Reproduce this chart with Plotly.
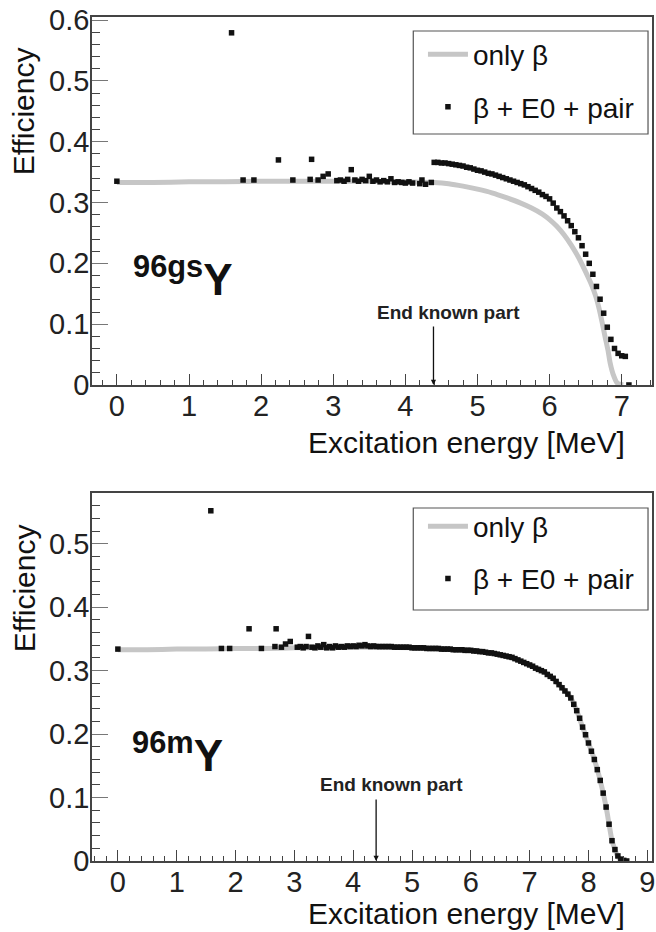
import plotly.graph_objects as go

# ---------------- data: 96gs Y (top panel) ----------------
gs_beta_E = [0.0, 0.5, 1.0, 1.5, 2.0, 2.5, 3.0, 3.5, 4.0, 4.4, 4.6, 4.8, 5.0, 5.2, 5.4, 5.6,
             5.75, 5.9, 6.0, 6.1, 6.2, 6.3, 6.4, 6.5, 6.57, 6.64, 6.69, 6.73, 6.77, 6.81,
             6.84, 6.88, 6.94, 7.02]
gs_beta_eff = [0.333, 0.333, 0.334, 0.334, 0.335, 0.335, 0.335, 0.335, 0.334, 0.333, 0.331, 0.327,
               0.322, 0.316, 0.308, 0.299, 0.291, 0.281, 0.272, 0.261, 0.247, 0.230, 0.210, 0.186,
               0.168, 0.146, 0.124, 0.102, 0.079, 0.057, 0.036, 0.018, 0.003, 0.0]

gs_all_E = [0.0, 1.59, 1.75, 1.90, 2.24, 2.44, 2.68, 2.70, 2.79, 2.86, 2.93,
            3.05, 3.10, 3.15, 3.20, 3.25, 3.30, 3.35, 3.40, 3.45, 3.50, 3.55, 3.60, 3.65,
            3.70, 3.75, 3.80, 3.85, 3.90, 3.95, 4.00, 4.05, 4.10, 4.20, 4.23, 4.28, 4.36,
            4.40, 4.45, 4.50, 4.55, 4.60, 4.65, 4.70, 4.75, 4.80, 4.85, 4.90, 4.95, 5.00,
            5.05, 5.10, 5.15, 5.20, 5.25, 5.30, 5.35, 5.40, 5.45, 5.50, 5.55, 5.60, 5.65,
            5.70, 5.75, 5.80, 5.85, 5.90, 5.95, 6.00, 6.05, 6.10, 6.15, 6.20, 6.25, 6.30,
            6.35, 6.40, 6.45, 6.50, 6.55, 6.60, 6.65, 6.70, 6.75, 6.80, 6.85, 6.90, 6.95,
            7.00, 7.05, 7.10]
gs_all_eff = [0.335, 0.579, 0.337, 0.337, 0.370, 0.337, 0.338, 0.371, 0.337, 0.343, 0.347,
              0.336, 0.337, 0.335, 0.338, 0.354, 0.337, 0.335, 0.338, 0.336, 0.343, 0.335,
              0.337, 0.334, 0.336, 0.334, 0.339, 0.333, 0.334, 0.333, 0.332, 0.334, 0.332,
              0.331, 0.337, 0.330, 0.333,
              0.366, 0.366, 0.365, 0.365, 0.364, 0.363, 0.362, 0.361, 0.360, 0.358, 0.357,
              0.355, 0.353, 0.352, 0.350, 0.348, 0.347, 0.345, 0.343, 0.341, 0.339, 0.337,
              0.335, 0.333, 0.331, 0.329, 0.326, 0.323, 0.320, 0.317, 0.313, 0.310, 0.306,
              0.299, 0.291, 0.285, 0.278, 0.270, 0.262, 0.252, 0.242, 0.229, 0.215, 0.200,
              0.182, 0.162, 0.141, 0.118, 0.095, 0.075, 0.060, 0.052, 0.048, 0.047, 0.0]

# ---------------- data: 96m Y (bottom panel) ----------------
m_beta_E = [0.0, 0.5, 1.0, 1.5, 2.0, 2.5, 3.0, 3.5, 4.0, 4.5, 5.0, 5.5, 6.0, 6.5, 7.0, 7.25,
            7.5, 7.7, 7.8, 7.9, 8.0, 8.1, 8.2, 8.3, 8.35, 8.4, 8.45, 8.5, 8.55]
m_beta_eff = [0.333, 0.333, 0.334, 0.334, 0.335, 0.335, 0.336, 0.336, 0.337, 0.337, 0.336,
              0.334, 0.332, 0.325, 0.309, 0.298, 0.278, 0.257, 0.237, 0.211, 0.186, 0.160,
              0.127, 0.085, 0.058, 0.032, 0.018, 0.007, 0.0]

m_all_E = [0.0, 1.58, 1.76, 1.90, 2.23, 2.44, 2.67, 2.69, 2.78, 2.85, 2.93,
           3.05, 3.10, 3.15, 3.20, 3.24, 3.30, 3.35, 3.40, 3.45, 3.50, 3.55, 3.60, 3.65,
           3.70, 3.75, 3.80, 3.85, 3.90, 3.95, 4.00, 4.05, 4.10, 4.15, 4.20, 4.25, 4.30,
           4.35, 4.40, 4.45, 4.50, 4.55, 4.60, 4.65, 4.70, 4.75, 4.80, 4.85, 4.90, 4.95,
           5.00, 5.05, 5.10, 5.15, 5.20, 5.25, 5.30, 5.35, 5.40, 5.45, 5.50, 5.55, 5.60,
           5.65, 5.70, 5.75, 5.80, 5.85, 5.90, 5.95, 6.00, 6.05, 6.10, 6.15, 6.20, 6.25,
           6.30, 6.35, 6.40, 6.45, 6.50, 6.55, 6.60, 6.65, 6.70, 6.75, 6.80, 6.85, 6.90,
           6.95, 7.00, 7.05, 7.10, 7.15, 7.20, 7.25, 7.30, 7.35, 7.40, 7.45, 7.50, 7.55,
           7.60, 7.65, 7.70, 7.75, 7.80, 7.85, 7.90, 7.95, 8.00, 8.05, 8.10, 8.15, 8.20,
           8.25, 8.30, 8.35, 8.40, 8.45, 8.50, 8.55, 8.60, 8.65]
m_all_eff = [0.334, 0.552, 0.335, 0.335, 0.366, 0.335, 0.338, 0.366, 0.337, 0.342, 0.346,
             0.337, 0.338, 0.336, 0.338, 0.354, 0.337, 0.336, 0.339, 0.337, 0.341, 0.336,
             0.338, 0.336, 0.339, 0.337, 0.338, 0.337, 0.339, 0.338, 0.339, 0.338, 0.340,
             0.339, 0.341, 0.339, 0.338, 0.339, 0.338,
             0.338, 0.338, 0.338, 0.338, 0.338, 0.337, 0.337, 0.337, 0.337, 0.337, 0.337,
             0.336, 0.336, 0.336, 0.336, 0.336, 0.335, 0.335, 0.335, 0.335, 0.335, 0.334,
             0.334, 0.334, 0.334, 0.333, 0.333, 0.333, 0.333, 0.332, 0.332, 0.332, 0.331,
             0.331, 0.330, 0.330, 0.329, 0.328, 0.328, 0.327, 0.326, 0.325, 0.324, 0.323,
             0.322, 0.321, 0.319, 0.317, 0.315, 0.313, 0.311, 0.309, 0.307, 0.304, 0.302,
             0.300, 0.298, 0.294, 0.291, 0.288, 0.283, 0.278, 0.273, 0.268, 0.263, 0.257,
             0.247, 0.237, 0.225, 0.211, 0.199, 0.186, 0.173, 0.160, 0.144, 0.127, 0.107,
             0.085, 0.058, 0.032, 0.018, 0.008, 0.003, 0.001, 0.0]

top_x_ticks = [0, 1, 2, 3, 4, 5, 6, 7]
bot_x_ticks = [0, 1, 2, 3, 4, 5, 6, 7, 8, 9]
top_y_ticks = [0, 0.1, 0.2, 0.3, 0.4, 0.5, 0.6]
bot_y_ticks = [0, 0.1, 0.2, 0.3, 0.4, 0.5]
end_known_E = 4.39

series_names = ["only β", "β + E0 + pair"]
isotope_labels = ["<b><sup>96gs</sup>Y</b>", "<b><sup>96m</sup>Y</b>"]

FONT = "Liberation Sans, Arial, Helvetica, sans-serif"
GRAY = "#c6c6c6"
BLACK = "#111111"
AXC = "#444444"

fig = go.Figure()

# top panel
fig.add_trace(go.Scatter(x=gs_beta_E, y=gs_beta_eff, mode="lines", name=series_names[0],
                         line=dict(color=GRAY, width=5, shape="spline", smoothing=0.6),
                         xaxis="x", yaxis="y", legend="legend", legendgroup="a"))
fig.add_trace(go.Scatter(x=gs_all_E, y=gs_all_eff, mode="markers", name=series_names[1],
                         marker=dict(symbol="square", size=5.5, color=BLACK), xaxis="x", yaxis="y",
                         legend="legend", legendgroup="b"))
# bottom panel
fig.add_trace(go.Scatter(x=m_beta_E, y=m_beta_eff, mode="lines", name=series_names[0],
                         line=dict(color=GRAY, width=5, shape="spline", smoothing=0.6),
                         xaxis="x2", yaxis="y2", legend="legend2", legendgroup="c"))
fig.add_trace(go.Scatter(x=m_all_E, y=m_all_eff, mode="markers", name=series_names[1],
                         marker=dict(symbol="square", size=5.5, color=BLACK), xaxis="x2", yaxis="y2",
                         legend="legend2", legendgroup="d"))

tickfont = dict(family=FONT, size=29, color="#222222")


def xaxis_cfg(rng, ticks, anchor):
    return dict(range=rng, tickvals=ticks, ticks="inside", ticklen=11, tickwidth=1,
                tickcolor=AXC, showline=True, linecolor=AXC, linewidth=1.5, mirror=True,
                showgrid=False, zeroline=False, tickfont=tickfont, anchor=anchor,
                ticklabelstandoff=-6, ticklabeloverflow="allow",
                minor=dict(dtick=0.2, ticks="inside", ticklen=5, tickcolor=AXC, tickwidth=1,
                           showgrid=False))


def yaxis_cfg(rng, ticks, domain, anchor):
    return dict(range=rng, tickvals=ticks, ticks="inside", ticklen=16, tickwidth=1,
                tickcolor="#777777", showline=True, linecolor=AXC, linewidth=1.5, mirror=True,
                showgrid=False, zeroline=False, tickfont=tickfont, domain=domain, anchor=anchor,
                ticklabelstandoff=-5,
                minor=dict(dtick=0.02, ticks="inside", ticklen=8, tickcolor=AXC, tickwidth=1,
                           showgrid=False))


legend_common = dict(font=dict(family=FONT, size=28, color="#111111"), bgcolor="rgba(0,0,0,0)",
                     borderwidth=0, tracegroupgap=13, traceorder="grouped",
                     xanchor="left", yanchor="top", itemwidth=40)

fig.update_layout(
    width=656, height=932,
    margin=dict(l=92, r=1, t=17, b=71),
    paper_bgcolor="white", plot_bgcolor="white",
    font=dict(family=FONT, color="#111111"),
    xaxis=xaxis_cfg([-0.345, 7.42], top_x_ticks, "y"),
    yaxis=yaxis_cfg([0, 0.605], top_y_ticks, [0.564, 1.0], "x"),
    xaxis2=xaxis_cfg([-0.44, 9.08], bot_x_ticks, "y2"),
    yaxis2=yaxis_cfg([0, 0.58], bot_y_ticks, [0.0, 0.436], "x2"),
    legend=dict(x=0.591, y=0.985, **legend_common),
    legend2=dict(x=0.591, y=0.426, **legend_common),
    showlegend=True,
)

# legend frames
for y0, y1 in [((861 - 134) / 844, (861 - 31) / 844), ((861 - 610) / 844, (861 - 508) / 844)]:
    fig.add_shape(type="rect", xref="paper", yref="paper",
                  x0=(415 - 92) / 563, x1=(651 - 92) / 563, y0=y0, y1=y1,
                  line=dict(color="#555555", width=1.2), fillcolor="rgba(0,0,0,0)")

# axis titles
for yc in [(861 - 111) / 844, (861 - 588) / 844]:
    fig.add_annotation(text="Efficiency", xref="paper", yref="paper", x=(24 - 92) / 563, y=yc,
                       textangle=-90, showarrow=False, xanchor="center", yanchor="middle",
                       font=dict(family=FONT, size=30, color="#111111"))
for yc in [(861 - 443) / 844, (861 - 914) / 844]:
    fig.add_annotation(text="Excitation energy [MeV]", xref="paper", yref="paper",
                       x=(630 - 92) / 563, y=yc, showarrow=False, xanchor="right",
                       yanchor="middle", font=dict(family=FONT, size=30, color="#111111"))

# isotope labels
fig.add_annotation(text=isotope_labels[0], xref="x", yref="y", x=0.2, y=0.178,
                   showarrow=False, xanchor="left", yanchor="middle",
                   font=dict(family=FONT, size=44, color="#111111"))
fig.add_annotation(text=isotope_labels[1], xref="x2", yref="y2", x=0.2, y=0.171,
                   showarrow=False, xanchor="left", yanchor="middle",
                   font=dict(family=FONT, size=44, color="#111111"))

# "End known part" arrows and labels
for xr, yr, ay, ty in [("x", "y", -60, 0.119), ("x2", "y2", -63, 0.12)]:
    fig.add_annotation(x=end_known_E, y=0, xref=xr, yref=yr, ax=0, ay=ay, text="",
                       showarrow=True, arrowhead=2, arrowsize=0.8, arrowwidth=1.3,
                       arrowcolor="#111111")
    fig.add_annotation(x=end_known_E, y=ty, xref=xr, yref=yr, xshift=15,
                       text="<b>End known part</b>", showarrow=False,
                       xanchor="center", yanchor="middle",
                       font=dict(family=FONT, size=19, color="#222222"))

fig.write_html("out.html", config={"displayModeBar": False},
               post_script="document.body.style.margin='0px';"
                           "document.body.style.overflow='hidden';")
